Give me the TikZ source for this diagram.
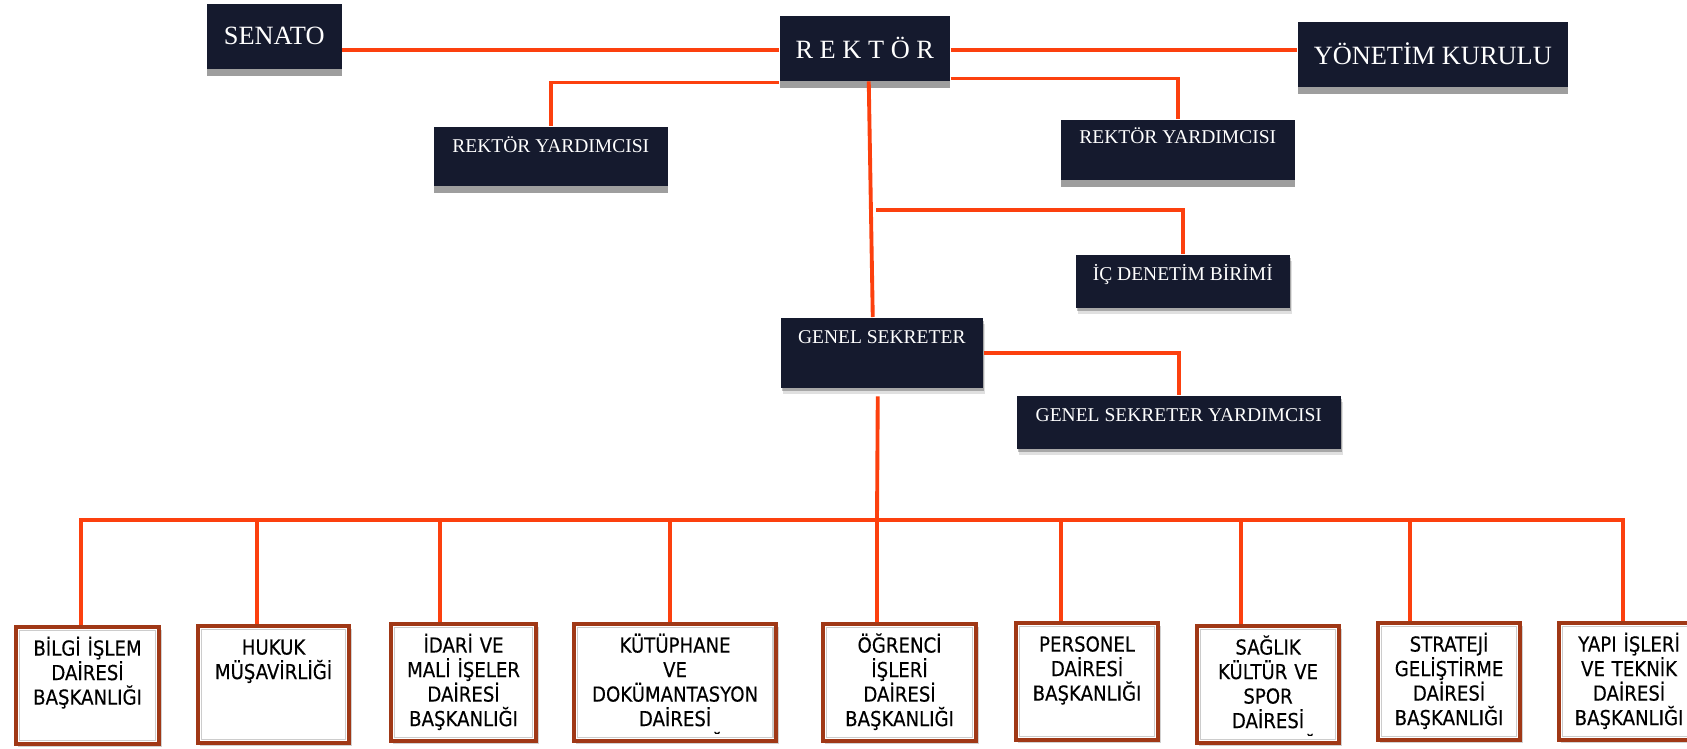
\documentclass[tikz,border=0pt]{standalone}
\usepackage{fontspec}
\setmainfont{Liberation Serif}
\newfontfamily\unitfont[FakeStretch=0.88, FakeBold=0.3]{DejaVu Sans}
\usetikzlibrary{positioning,calc,shadows}

\definecolor{navy}{RGB}{21,26,46}
\definecolor{linkred}{RGB}{252,64,14}
\definecolor{framebrown}{RGB}{160,56,22}
\definecolor{bandgray}{RGB}{158,158,158}

\begin{document}
\begin{tikzpicture}[x=0.01cm, y=-0.01cm]
  \tikzstyle{every node}=[inner sep=0pt, anchor=north west];
  \tikzstyle{band}=[drop shadow={shadow xshift=0pt, shadow yshift=-2.1pt, fill=bandgray, opacity=1}];
  \tikzstyle{soft}=[drop shadow={shadow xshift=0.4pt, shadow yshift=-1pt, fill=black, opacity=0.25},
                    drop shadow={shadow xshift=0.6pt, shadow yshift=-1.8pt, fill=black, opacity=0.12}];
  \tikzstyle{topbox}=[fill=navy, text=white, minimum height=0.65cm, band, font=\fontsize{7.5}{8}\selectfont];
  \tikzstyle{subbox}=[fill=navy, text=white, text height=0.26cm, font=\fontsize{5.55}{6}\selectfont];
  \tikzstyle{unitbox}=[draw=framebrown, line width=1.15pt, fill=white, align=center,
                       text height=0.285cm, text depth=0.885cm,
                       font=\unitfont\fontsize{5.86}{6.97}\selectfont,
                       drop shadow={shadow xshift=0.7pt, shadow yshift=-0.9pt, fill=black, opacity=0.18},
                       path picture={\draw[gray!40, line width=0.5pt]
                         ($(path picture bounding box.north west)+(3.5,3.5)$) rectangle
                         ($(path picture bounding box.south east)+(-3.5,-3.5)$);}];
  \tikzstyle{link}=[draw=linkred, line width=1.1pt];

  \path[fill=white, use as bounding box] (0,0) rectangle (1687,748);

  % top row
  \node [topbox, minimum width=1.35cm] at (206,3)   (Senato)  {SENATO};
  \node [topbox, minimum width=1.70cm] at (779,15)  (Rektor)  {R E K T Ö R};
  \node [topbox, minimum width=2.70cm] at (1297,21) (Yonetim) {YÖNETİM KURULU};

  \node [subbox, band, minimum width=2.34cm, text depth=0.33cm] at (433,126) (RyrdLeft) {REKTÖR YARDIMCISI};
  \node [subbox, band, minimum width=2.34cm, text height=0.24cm, text depth=0.36cm] at (1060,119) (RyrdRight) {REKTÖR YARDIMCISI};
  \node [subbox, soft, minimum width=2.14cm, text depth=0.27cm] at (1075,254) (IcDenetim) {İÇ DENETİM BİRİMİ};
  \node [subbox, soft, minimum width=2.02cm, text depth=0.44cm] at (780,317)  (GenSek) {GENEL SEKRETER};
  \node [subbox, soft, minimum width=3.24cm, text depth=0.27cm] at (1016,395) (GenSekYrd) {GENEL SEKRETER YARDIMCISI};

  % units
  \node [unitbox, text width=1.43cm] at (14,625)   (Bilgi)     {BİLGİ İŞLEM\\DAİRESİ\\BAŞKANLIĞI};
  \node [unitbox, text width=1.51cm] at (196,624)  (Hukuk)     {HUKUK\\MÜŞAVİRLİĞİ};
  \node [unitbox, text width=1.45cm] at (389,622)  (Idari)     {İDARİ VE\\MALİ İŞELER\\DAİRESİ\\BAŞKANLIĞI};
  \node [unitbox, text width=2.02cm] at (572,622)  (Kutuphane) {KÜTÜPHANE\\VE\\DOKÜMANTASYON\\DAİRESİ};
  \node [unitbox, text width=1.53cm] at (821,622)  (Ogrenci)   {ÖĞRENCİ\\İŞLERİ\\DAİRESİ\\BAŞKANLIĞI};
  \node [unitbox, text width=1.42cm] at (1014,621) (Personel)  {PERSONEL\\DAİRESİ\\BAŞKANLIĞI};
  \node [unitbox, text width=1.42cm] at (1195,624) (Saglik)    {SAĞLIK\\KÜLTÜR VE\\SPOR\\DAİRESİ};
  \node [unitbox, text width=1.42cm] at (1376,621) (Strateji)  {STRATEJİ\\GELİŞTİRME\\DAİRESİ\\BAŞKANLIĞI};
  \node [unitbox, text width=1.40cm] at (1557,621) (Yapi)      {YAPI İŞLERİ\\VE TEKNİK\\DAİRESİ\\BAŞKANLIĞI};

  % cut off last lines
  \begin{scope}
    \clip ($(Kutuphane.south west)+(4,-10)$) rectangle ($(Kutuphane.south east)+(-4,-40)$);
    \node [anchor=base, font=\unitfont\fontsize{5.86}{6.97}\selectfont] at ($(Kutuphane.north)+(0,129)$) {BAŞKANLIĞI};
  \end{scope}
  \begin{scope}
    \clip ($(Saglik.south west)+(4,-10)$) rectangle ($(Saglik.south east)+(-4,-40)$);
    \node [anchor=base, font=\unitfont\fontsize{5.86}{6.97}\selectfont] at ($(Saglik.north)+(0,129)$) {BAŞKANLIĞI};
  \end{scope}

  % connectors
  \coordinate (TopLine) at (0,50);
  \draw[link] (Senato.east |- TopLine) -- (Rektor.west |- TopLine);
  \draw[link] (Rektor.east |- TopLine) -- (Yonetim.west |- TopLine);
  \draw[link] ($(Rektor.south west)+(0,1)$) -| (RyrdLeft.north);
  \draw[link] ($(Rektor.south east)+(0,-3)$) -| (RyrdRight.north);
  \draw[link] ($(Rektor.south)+(4,0)$) -- ($(GenSek.north)+(-9,0)$);
  \coordinate (IcJoin) at (876,210);
  \draw[link] (IcJoin) -| (IcDenetim.north);
  \draw[link] (GenSek.east) -| (GenSekYrd.north);

  \coordinate (BusL) at (81,520);
  \coordinate (BusR) at (1623,520);
  \coordinate (BusGenSek) at (877,520);
  \draw[link] (Bilgi.north -| BusL) -- (BusL) -- (BusR) -- (BusR |- Yapi.north);
  \draw[link] ($(GenSek.south)+(-4,8)$) -- (BusGenSek) -- (BusGenSek |- Ogrenci.north);

  \coordinate (BusHukuk) at (257,520);
  \coordinate (BusIdari) at (440,520);
  \coordinate (BusKutuphane) at (670,520);
  \coordinate (BusPersonel) at (1061,520);
  \coordinate (BusSaglik) at (1241,520);
  \coordinate (BusStrateji) at (1410,520);
  \draw[link] (BusHukuk) -- (BusHukuk |- Hukuk.north);
  \draw[link] (BusIdari) -- (BusIdari |- Idari.north);
  \draw[link] (BusKutuphane) -- (BusKutuphane |- Kutuphane.north);
  \draw[link] (BusPersonel) -- (BusPersonel |- Personel.north);
  \draw[link] (BusSaglik) -- (BusSaglik |- Saglik.north);
  \draw[link] (BusStrateji) -- (BusStrateji |- Strateji.north);
\end{tikzpicture}
\end{document}
